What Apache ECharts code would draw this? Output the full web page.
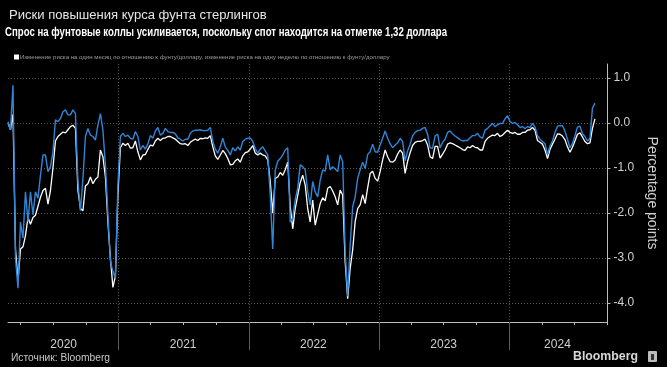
<!DOCTYPE html>
<html><head><meta charset="utf-8">
<script src="https://cdn.jsdelivr.net/npm/echarts@6/dist/echarts.min.js"></script>
<style>html,body{margin:0;padding:0;background:#000;}#c{width:667px;height:367px;}</style>
</head><body><div id="c"></div>
<script>
// Weekly observations (Wednesdays) starting at START_DATE
const START_DATE = '2020-02-26';
const monthChange = [ // white: 1-month risk reversal change
 0.0,-0.15,0.2,-2.8,-3.5,-2.8,-2.75,-2.5,-2.1,-2.25,-2.1,-2.05,-1.85,-1.65,-1.5,-1.45,-1.8,-1.5,-1.0,-0.4,
 -0.3,-0.25,-0.2,-0.22,-0.15,-0.08,-0.05,-0.12,-1.5,-1.9,-1.95,-1.4,-1.35,-1.2,-1.35,-1.25,-1.2,-0.6,-0.75,-1.2,
 -2.2,-3.0,-3.65,-3.4,-1.6,-0.55,-0.45,-0.5,-0.45,-0.56,-0.55,-0.4,-0.64,-0.82,-0.71,-0.7,-0.59,-0.49,-0.51,-0.4,
 -0.34,-0.39,-0.34,-0.33,-0.3,-0.3,-0.33,-0.36,-0.41,-0.46,-0.47,-0.46,-0.5,-0.43,-0.39,-0.36,-0.39,-0.34,-0.35,-0.33,
 -0.34,-0.28,-0.53,-0.73,-0.81,-0.71,-0.61,-0.68,-0.79,-0.93,-0.92,-0.84,-0.8,-0.87,-0.73,-0.66,-0.64,-0.58,-0.5,-0.67,
 -0.71,-0.67,-0.71,-0.73,-0.82,-1.3,-2.0,-1.23,-1.2,-1.1,-1.16,-1.04,-0.87,-1.85,-2.35,-1.9,-1.61,-1.32,-1.16,-1.38,
 -1.9,-2.2,-1.71,-2.27,-2.03,-1.79,-1.66,-1.73,-1.45,-1.41,-1.51,-1.64,-1.82,-1.49,-1.6,-3.08,-3.9,-3.23,-2.82,-2.19,
 -1.9,-1.82,-1.59,-1.79,-1.44,-1.12,-1.07,-1.23,-1.29,-1.08,-0.82,-0.6,-0.75,-0.86,-0.87,-0.82,-0.69,-0.6,-0.67,-1.12,
 -0.85,-0.66,-0.5,-0.43,-0.41,-0.41,-0.39,-0.36,-0.49,-0.75,-0.79,-0.52,-0.52,-0.78,-0.69,-0.6,-0.47,-0.44,-0.46,-0.49,
 -0.52,-0.55,-0.59,-0.61,-0.53,-0.55,-0.5,-0.54,-0.55,-0.6,-0.6,-0.41,-0.34,-0.3,-0.27,-0.28,-0.23,-0.3,-0.27,-0.21,
 -0.16,-0.21,-0.23,-0.21,-0.25,-0.25,-0.21,-0.21,-0.16,-0.15,-0.1,-0.16,-0.39,-0.43,-0.47,-0.6,-0.79,-0.59,-0.47,-0.36,
 -0.24,-0.25,-0.29,-0.37,-0.53,-0.65,-0.54,-0.4,-0.25,-0.22,-0.31,-0.41,-0.46,-0.44,-0.12,0.09
];
const weekChange = [ // blue: 1-week risk reversal change
 0.03,-0.15,0.84,-3.0,-3.67,-2.2,-2.56,-1.53,-2.19,-1.53,-2.04,-1.53,-1.67,-1.16,-0.71,-0.71,-1.08,-0.97,-0.64,0.07,
 0.03,0.1,0.25,0.29,0.18,0.18,0.29,0.21,-1.3,-1.95,-1.23,-0.3,-0.12,-0.27,-0.3,-0.38,-0.04,0.21,-0.16,-0.93,
 -2.04,-3.08,-3.3,-3.45,-1.38,-0.3,-0.23,-0.3,-0.27,-0.34,-0.36,-0.19,-0.3,-0.6,-0.5,-0.58,-0.47,-0.28,-0.34,-0.18,
 -0.1,-0.27,-0.23,-0.12,-0.19,-0.21,-0.21,-0.24,-0.33,-0.36,-0.4,-0.36,-0.36,-0.23,-0.18,-0.16,-0.16,-0.15,-0.17,-0.17,
 -0.16,-0.1,-0.41,-0.58,-0.67,-0.53,-0.34,-0.53,-0.61,-0.71,-0.55,-0.62,-0.53,-0.6,-0.41,-0.36,-0.34,-0.33,-0.41,-0.56,
 -0.67,-0.58,-0.53,-0.62,-0.71,-1.6,-2.8,-1.05,-0.85,-0.79,-0.71,-0.6,-0.55,-2.2,-2.1,-1.7,-1.44,-0.93,-0.97,-1.04,
 -1.53,-1.82,-1.3,-1.53,-1.64,-1.27,-1.04,-1.07,-0.71,-1.04,-0.97,-1.02,-1.08,-0.71,-0.86,-2.86,-3.85,-2.71,-1.86,-1.64,
 -1.23,-1.04,-0.87,-1.01,-0.7,-0.64,-0.47,-0.64,-0.65,-0.49,-0.34,-0.18,-0.34,-0.46,-0.55,-0.49,-0.44,-0.34,-0.41,-0.84,
 -0.62,-0.47,-0.28,-0.21,-0.17,-0.16,-0.12,-0.1,-0.25,-0.55,-0.56,-0.29,-0.25,-0.55,-0.43,-0.36,-0.21,-0.18,-0.24,-0.29,
 -0.33,-0.37,-0.4,-0.39,-0.39,-0.33,-0.28,-0.28,-0.23,-0.31,-0.34,-0.16,-0.12,-0.06,-0.01,-0.08,-0.04,-0.01,-0.01,0.09,
 0.16,0.03,-0.01,0.01,-0.04,-0.1,-0.08,-0.13,-0.08,-0.1,-0.01,-0.09,-0.28,-0.36,-0.41,-0.46,-0.7,-0.51,-0.4,-0.21,
 -0.07,-0.06,-0.06,-0.18,-0.36,-0.55,-0.46,-0.28,-0.09,-0.07,-0.24,-0.3,-0.4,-0.34,0.33,0.44
];
const quarterTicks = ['2020-04-01','2020-07-01','2020-10-01','2021-01-01','2021-04-01','2021-07-01','2021-10-01',
 '2022-01-01','2022-04-01','2022-07-01','2022-10-01','2023-01-01','2023-04-01','2023-07-01','2023-10-01',
 '2024-01-01','2024-04-01','2024-07-01','2024-10-01'];
const yearBoundaries = ['2021-01-01','2022-01-01','2023-01-01','2024-01-01'];
const yearLabelDates = ['2020-07-31','2021-07-01','2022-07-01','2023-07-01','2024-05-15'];
const yTicks = [-4,-3,-2,-1,0,1];
const AXIS_MIN = '2020-02-26', AXIS_MAX = '2024-10-02';

const titleText = 'Риски повышения курса фунта стерлингов';
const subtitleText = 'Спрос на фунтовые коллы усиливается, поскольку спот находится на отметке 1,32 доллара';
const sourceText = 'Источник: Bloomberg';
const monthName = 'Изменение риска на один месяц по отношению к фунту/доллару';
const weekName = 'изменение риска на одну неделю по отношению к фунту/доллару';
const legendText = monthName + ', ' + weekName;

function ts(s){const p=s.split('-').map(Number);return new Date(p[0],p[1]-1,p[2]).getTime();}
function weekDate(i){const p=START_DATE.split('-').map(Number);return new Date(p[0],p[1]-1,p[2]+7*i).getTime();}
const whiteData = monthChange.map((v,i)=>[weekDate(i),v]);
const blueData = weekChange.map((v,i)=>[weekDate(i),v]);

const SANS = "'Liberation Sans',Arial,sans-serif";
const ctx = document.createElement('canvas').getContext('2d');
function measure(text, font){ctx.font = font; return ctx.measureText(text).width;}
// horizontal compression to mimic the condensed Bloomberg typeface
const subFont = "bold 12px " + SANS;
const subScale = 442 / measure(subtitleText, subFont);
const srcFont = "11px " + SANS;
const srcScale = 99 / measure(sourceText, srcFont);
const logoFont = "bold 13px " + SANS;
const logoScale = 65 / measure('Bloomberg', logoFont);
const legendFontSize = Math.min(7.5, 7 * 370 / measure(legendText, "7px " + SANS));
const titleFontSize = Math.min(14, 14 * 258 / measure(titleText, "14px " + SANS));

const chart = echarts.init(document.getElementById('c'), null, {renderer:'canvas'});
chart.setOption({
  backgroundColor:'#000',
  animation:false,
  title:[
    {text:titleText, left:4, top:4, padding:5,
     textStyle:{color:'#e6e6e6', fontSize:titleFontSize, fontWeight:'normal', fontFamily:SANS}}
  ],
  graphic:[
    {type:'text', x:5, y:27, scaleX:subScale, style:{text:subtitleText, font:subFont, fill:'#ffffff', textVerticalAlign:'top'}},
    {type:'text', x:11, y:352, scaleX:srcScale, style:{text:sourceText, font:srcFont, fill:'#c8c8c8', textVerticalAlign:'top'}},
    {type:'text', x:573, y:350, scaleX:logoScale, style:{text:'Bloomberg', font:logoFont, fill:'#d8d8d8', textVerticalAlign:'top'}},
    {type:'rect', x:648, y:351, shape:{width:9,height:11,r:1}, style:{fill:'#bbb'}},
    {type:'rect', x:651, y:354, shape:{width:3,height:6}, style:{fill:'#333'}}
  ],
  legend:{
    data:[monthName], left:9, top:49, icon:'rect', itemWidth:5, itemHeight:5, selectedMode:false,
    formatter:()=>legendText,
    textStyle:{color:'#9a9a9a', fontSize:legendFontSize, fontFamily:SANS, padding:[0,0,0,-4]}
  },
  grid:{left:8, right:54, top:64, bottom:45, containLabel:false},
  xAxis:[
    {type:'value', position:'bottom', min:ts(AXIS_MIN), max:ts(AXIS_MAX),
     axisLine:{show:true, onZero:false, lineStyle:{color:'#bdbdbd', width:1}},
     axisTick:{show:true, customValues:quarterTicks.map(ts), length:3, lineStyle:{color:'#bdbdbd'}},
     axisLabel:{show:true, customValues:yearLabelDates.map(ts), margin:17, color:'#d0d0d0', fontSize:12, fontFamily:SANS,
       formatter:v=>String(new Date(v).getFullYear())},
     splitLine:{show:false}},
    {type:'value', position:'bottom', min:ts(AXIS_MIN), max:ts(AXIS_MAX),
     axisLine:{show:false, onZero:false},
     axisTick:{show:true, customValues:yearBoundaries.map(ts), length:28, lineStyle:{color:'#5a5a5a'}},
     axisLabel:{show:false},
     splitLine:{show:true, lineStyle:{color:'#5a5a5a', type:[1,2], width:1}}}
  ],
  yAxis:{type:'value', position:'right', min:-4.42, max:1.31,
    name:'Percentage points', nameLocation:'middle', nameRotate:-90, nameGap:28,
    nameTextStyle:{color:'#cfcfcf', fontSize:14, fontFamily:SANS},
    axisLine:{show:true, onZero:false, lineStyle:{color:'#bdbdbd'}},
    axisTick:{show:true, customValues:yTicks, length:3, lineStyle:{color:'#bdbdbd'}},
    axisLabel:{customValues:yTicks, margin:6, color:'#d0d0d0', fontSize:12, fontFamily:SANS, formatter:v=>v.toFixed(1)},
    splitLine:{show:true, lineStyle:{color:'#5a5a5a', type:[1,2], width:1}}
  },
  series:[
    {name:monthName, type:'line', data:whiteData, showSymbol:false, color:'#ffffff',
     lineStyle:{color:'#ffffff', width:1.3}, z:2},
    {name:weekName, type:'line', data:blueData, showSymbol:false, color:'#2f86d8',
     lineStyle:{color:'#2f86d8', width:1.4}, z:3}
  ]
});
</script></body></html>
